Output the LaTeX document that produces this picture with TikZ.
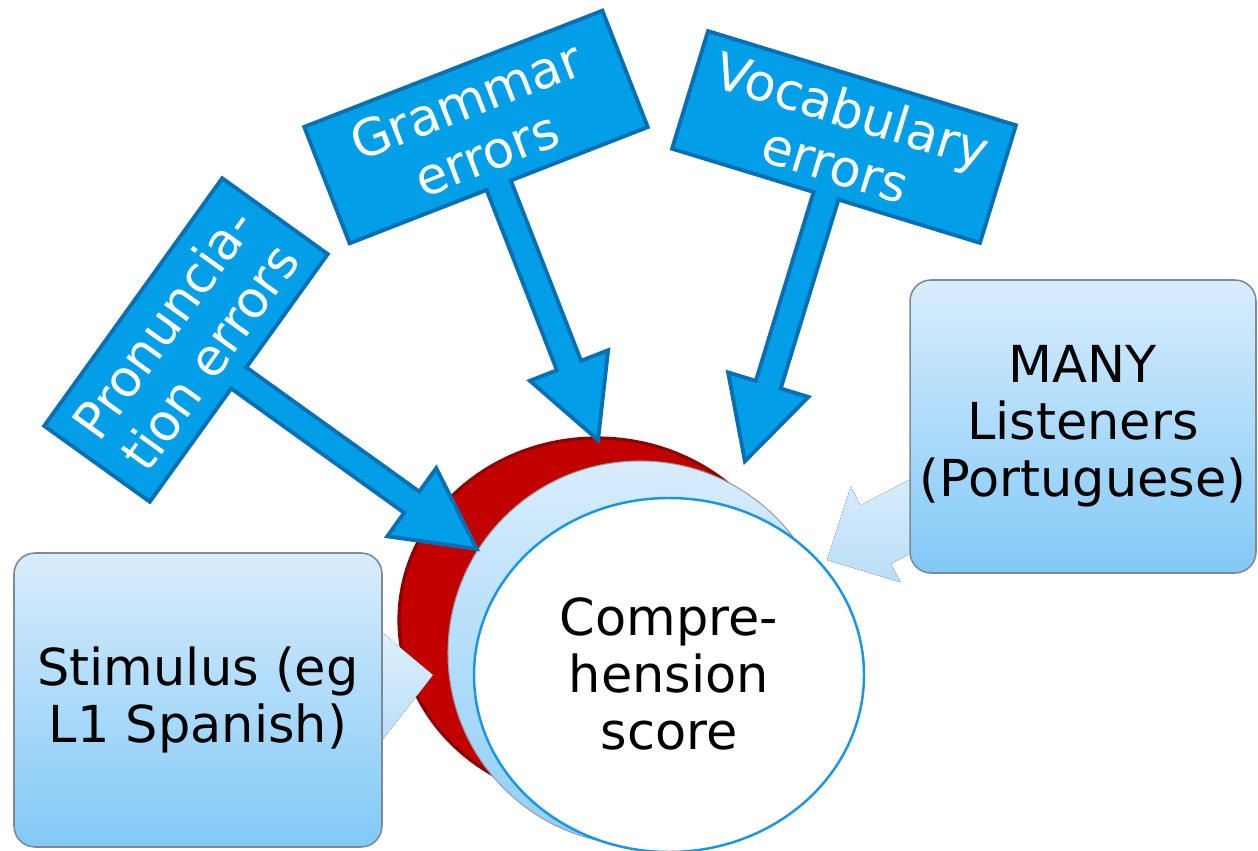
\documentclass[tikz,border=0pt]{standalone}
\usepackage{fontspec}
\setmainfont{DejaVu Sans}
\usetikzlibrary{shapes.geometric}

\definecolor{errfill}{RGB}{3,158,232}
\definecolor{errline}{RGB}{8,112,178}
\definecolor{redfill}{RGB}{194,0,0}
\definecolor{redrim}{RGB}{140,0,0}
\definecolor{lbtop}{RGB}{216,237,252}
\definecolor{lbbot}{RGB}{130,201,247}
\definecolor{ringline}{RGB}{24,150,230}
\definecolor{boxline}{RGB}{125,138,150}
\definecolor{fainttop}{RGB}{226,242,253}
\definecolor{faintbot}{RGB}{186,222,248}

\tikzset{
  lbl/.style={font=\fontsize{29}{32.5}\selectfont, align=center, inner sep=0pt},
  errshape/.style={fill=errfill, draw=errline, line width=2.2pt, line join=miter},
  errtext/.style={lbl, text=white},
  lightbox/.style={lbl, draw=boxline, line width=0.9pt, rounded corners=0.42cm,
    top color=lbtop, bottom color=lbbot, minimum width=#1},
  faintarrow/.style={top color=fainttop, bottom color=faintbot, draw=none},
}

% blocky sign with a stem and arrow head: name, centre, angle, width, height, tip distance, text
\newcommand{\errsign}[7]{%
  \begin{scope}[shift={#2}, rotate=#3]
    \draw[errshape] (-#4/2,-#5/2) -- (#4/2,-#5/2) -- (#4/2,#5/2) -- (13,#5/2)
      -- (13,#6-80) -- (42,#6-80) -- (0,#6) coordinate (#1tip) -- (-42,#6-80)
      -- (-13,#6-80) -- (-13,#5/2) -- (-#4/2,#5/2) -- cycle;
  \end{scope}
  \node[errtext, rotate=#3] (#1) at #2 {#7};
}

% wide pale arrow, drawn back from its tip: tip, angle, head length, head half width, stem half width, stem length
\newcommand{\faintarrow}[6]{%
  \begin{scope}[shift={#1}, rotate=#2]
    \fill[faintarrow] (0,0) -- (-#3,#4) -- (-#3,#5) -- (-#3-#6,#5)
      -- (-#3-#6,-#5) -- (-#3,-#5) -- (-#3,-#4) -- cycle;
  \end{scope}
}

\begin{document}
\begin{tikzpicture}[x=0.02cm, y=-0.02cm]
  \useasboundingbox (0,0) rectangle (1258,851);
  \clip (0,0) rectangle (1258,851);

  % stacked discs
  \coordinate (redc) at (597,620);
  \coordinate (bluec) at (640,653);
  \coordinate (whitec) at (669,675);
  \filldraw[fill=redfill, draw=redrim, line width=1.8pt]
    (redc) ellipse [x radius=198, y radius=182];
  \filldraw[top color=lbtop, bottom color=lbbot!85!lbtop, draw=boxline!80, line width=0.6pt]
    (bluec) circle [radius=192];
  \filldraw[fill=white, draw=ringline, line width=1.4pt]
    (whitec) ellipse [x radius=195, y radius=177];
  \node[lbl] (score) at (669,674) {Compre-\\hension\\score};

  % pale arrows from the side boxes
  \faintarrow{(433,675)}{6.1}{58}{60}{40}{120}
  \faintarrow{(827,560)}{207.6}{55}{54}{33}{140}

  % side boxes
  \node[lightbox=7.36cm, minimum height=5.88cm] (stim) at (198,700)
    {Stimulus (eg\\L1 Spanish)};
  \node[lightbox=6.92cm, minimum height=5.86cm] (many) at (1083,426.5)
    {MANY\\Listeners\\(Portuguese)};

  % error signs pointing at the discs
  \errsign{pron}{(186,340)}{54.3}{305}{130}{358}{Pronuncia-\\tion errors}
  \errsign{gram}{(476,127)}{21.3}{320}{125}{336}{Grammar\\errors}
  \errsign{voc}{(844,137)}{-17}{322}{123}{339}{Vocabulary\\errors}
\end{tikzpicture}
\end{document}
